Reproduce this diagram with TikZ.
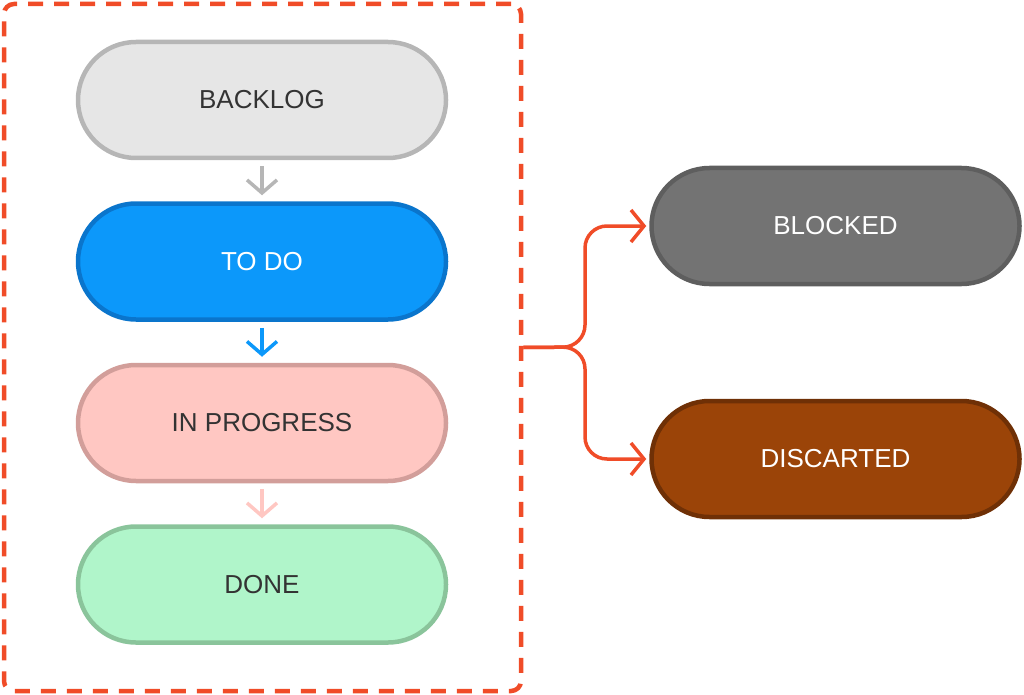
\documentclass[tikz,border=0pt]{standalone}
\usepackage{fontspec}
\setmainfont{Liberation Sans}
\usetikzlibrary{arrows.meta,positioning}
\definecolor{framered}{RGB}{240,76,40}
\definecolor{inkdark}{RGB}{51,51,51}
\definecolor{backlogfill}{RGB}{230,230,230}
\definecolor{backlogline}{RGB}{182,182,182}
\definecolor{todofill}{RGB}{12,152,250}
\definecolor{todoline}{RGB}{10,117,204}
\definecolor{progfill}{RGB}{255,199,194}
\definecolor{progline}{RGB}{210,158,154}
\definecolor{donefill}{RGB}{176,245,202}
\definecolor{doneline}{RGB}{138,196,155}
\definecolor{blockfill}{RGB}{115,115,115}
\definecolor{blockline}{RGB}{94,94,94}
\definecolor{discfill}{RGB}{155,68,8}
\definecolor{discline}{RGB}{111,48,6}

\begin{document}
\begin{tikzpicture}[x=1pt,y=-1pt,node distance=41pt and 201pt,
  pill/.style={draw,line width=4.5pt,rounded corners=58pt,minimum width=368pt,
    minimum height=116pt,font=\fontsize{26}{30}\selectfont},
  step arrow/.style={line width=3.5pt,-{Straight Barb[length=13pt,width=30pt]},
    shorten <=6pt,shorten >=6pt},
  branch/.style={line width=3.5pt,framered,rounded corners=22pt,
    -{Straight Barb[length=13pt,width=32pt]},shorten >=3pt}]
\useasboundingbox (0,0) rectangle (1024,695);
\node[draw=framered,line width=4.5pt,dash pattern=on 15pt off 11pt,rounded corners=10pt,
  minimum width=517pt,minimum height=687pt] (frame) at (262.5,347.5) {};
\node[pill,draw=backlogline,fill=backlogfill,text=inkdark] (backlog) at (262,100) {BACKLOG};
\node[pill,draw=todoline,fill=todofill,text=white,below=of backlog] (todo) {TO DO};
\node[pill,draw=progline,fill=progfill,text=inkdark,below=of todo] (progress) {IN PROGRESS};
\node[pill,draw=doneline,fill=donefill,text=inkdark,below=of progress] (done) {DONE};
\node[pill,draw=blockline,fill=blockfill,text=white] (blocked) at (835.5,226) {BLOCKED};
\node[pill,draw=discline,fill=discfill,text=white] (discarted) at (835.5,459) {DISCARTED};
% flow down the column
\draw[step arrow,backlogline] (backlog) -- (todo);
\draw[step arrow,todofill] (todo) -- (progress);
\draw[step arrow,progfill] (progress) -- (done);
% fork to the side states
\coordinate (fork) at (585,347);
\draw[branch] (frame.east) -- (fork) |- (blocked.west);
\draw[branch] (frame.east) -- (fork) |- (discarted.west);
\end{tikzpicture}
\end{document}
